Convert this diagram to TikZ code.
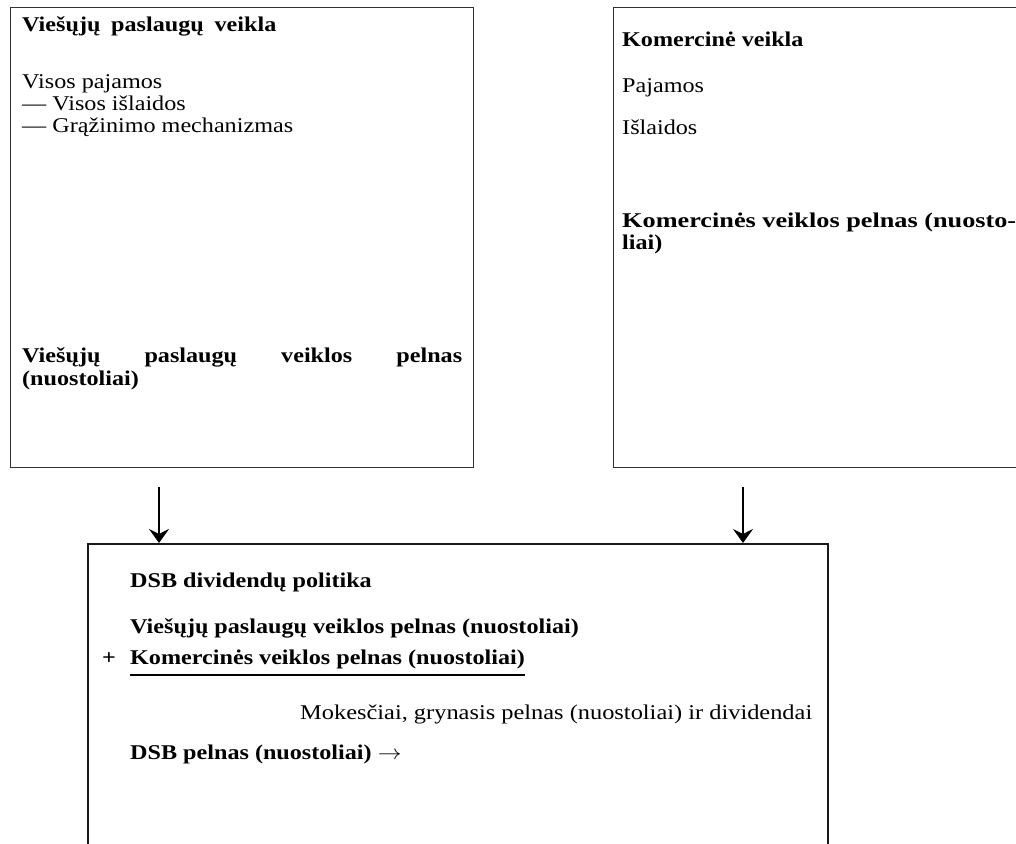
\documentclass[tikz,border=0pt]{standalone}
\usepackage{fontspec}
\setmainfont{Liberation Serif}
\usetikzlibrary{arrows.meta}
\newcommand\fw[2]{\resizebox{#1}{\height}{#2}}
\newcommand\hs[1]{\scalebox{1.15}[1]{#1}}
\begin{document}
\begin{tikzpicture}[x=1pt,y=-1pt,
  thinbox/.style={draw=black!80, line width=1.1pt, inner sep=0pt},
  thickbox/.style={draw=black!90, line width=1.6pt, inner sep=0pt},
  txt/.style={anchor=base west, inner sep=0pt, font=\fontsize{21}{24}\selectfont},
  btxt/.style={anchor=base west, inner sep=0pt, font=\fontsize{21}{24}\selectfont\bfseries},
  flow/.style={line width=1.6pt, -{Stealth[length=14pt,width=20pt,inset=5pt]}}]
\useasboundingbox (0,0) rectangle (1016,843);
\clip (0,0) rectangle (1016,843);
% boxes
\node[thinbox, anchor=north west, minimum width=463pt, minimum height=460pt] (vps) at (10,7) {};
\node[thinbox, anchor=north west, minimum width=430pt, minimum height=460pt] (kom) at (613,7) {};
\node[thickbox, anchor=north west, minimum width=740pt, minimum height=330pt] (dsb) at (87,543) {};
% left box texts
\node[btxt] (t1) at (22,32) {\hs{\makebox[221pt][s]{Viešųjų paslaugų veikla}}};
\node[txt] (t2) at (22,88) {\hs{Visos pajamos}};
\node[txt] (t3) at (22,110) {\hs{— Visos išlaidos}};
\node[txt] (t4) at (22,132) {\hs{— Grąžinimo mechanizmas}};
\node[btxt] (t5) at (22,362) {\hs{\makebox[382.6pt][s]{Viešųjų paslaugų veiklos pelnas}}};
\node[btxt] (t6) at (22,385) {\hs{(nuostoliai)}};
% right box texts
\node[btxt] (r1) at (622,47) {\hs{Komercinė veikla}};
\node[txt] (r2) at (622,92) {\hs{Pajamos}};
\node[txt] (r3) at (622,134) {\hs{Išlaidos}};
\node[btxt] (r4) at (622,227) {\fw{394pt}{Komercinės veiklos pelnas (nuosto-}};
\node[btxt] (r5) at (622,249) {\hs{liai)}};
% bottom box texts
\node[btxt] (b1) at (130,587) {\hs{DSB dividendų politika}};
\node[btxt] (b2) at (130,633) {\hs{Viešųjų paslaugų veiklos pelnas (nuostoliai)}};
\node[btxt] (bp) at (102,664) {\hs{+}};
\node[btxt] (b3) at (130,664) {\hs{Komercinės veiklos pelnas (nuostoliai)}};
\draw[line width=1.4pt] (b3.base west) ++(0,11) coordinate (u1) -- (u1 -| b3.east);
\node[txt] (b4) at (300,719) {\fw{512pt}{Mokesčiai, grynasis pelnas (nuostoliai) ir dividendai}};
\node[btxt] (b5) at (130,759) {\hs{DSB pelnas (nuostoliai) $\rightarrow$}};
% arrows
\coordinate (a1) at (159,487);
\coordinate (a2) at (743,487);
\draw[flow] (a1) -- (a1 |- dsb.north);
\draw[flow] (a2) -- (a2 |- dsb.north);
\end{tikzpicture}
\end{document}
